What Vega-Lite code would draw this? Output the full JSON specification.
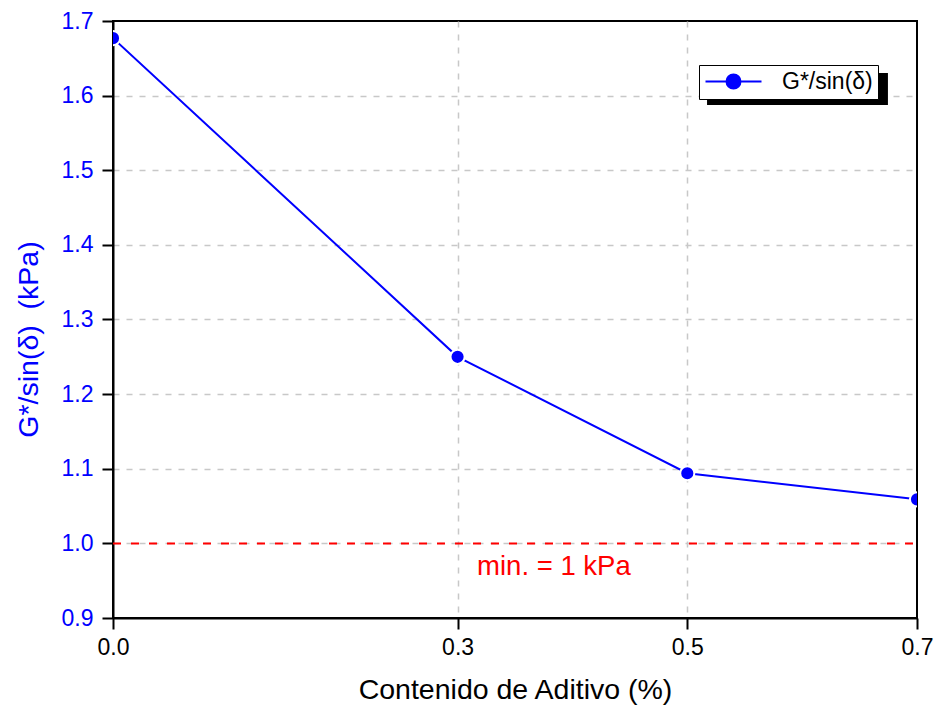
{
  "$schema": "https://vega.github.io/schema/vega-lite/v6.json",
  "width": 804,
  "height": 597,
  "autosize": {"type": "none"},
  "padding": {"left": 113, "top": 21, "right": 18, "bottom": 93},
  "background": "white",
  "config": {
    "font": "Liberation Sans",
    "view": {"stroke": "black", "strokeWidth": 2},
    "axis": {
      "domainColor": "black",
      "domainWidth": 2,
      "tickColor": "black",
      "tickWidth": 2,
      "gridColor": "#c8c8c8",
      "gridWidth": 1.5,
      "gridDash": [6, 7],
      "labelFont": "Liberation Sans",
      "labelFontSize": 23,
      "titleFont": "Liberation Sans",
      "titleFontSize": 28.5,
      "titleFontWeight": "normal",
      "labelFlush": false,
      "labelOverlap": false
    }
  },
  "datasets": {
    "ensayo": [
      {"aditivo": 0.0, "g": 1.677, "serie": "G*/sin(δ)"},
      {"aditivo": 0.3, "g": 1.25, "serie": "G*/sin(δ)"},
      {"aditivo": 0.5, "g": 1.094, "serie": "G*/sin(δ)"},
      {"aditivo": 0.7, "g": 1.059, "serie": "G*/sin(δ)"}
    ],
    "umbral": [
      {"desde": 0.0, "hasta": 0.7, "valor": 1.0, "nota": "min. = 1 kPa"}
    ]
  },
  "layer": [
    {
      "data": {"name": "umbral"},
      "mark": {"type": "rule", "color": "#ff0000", "strokeWidth": 2, "strokeDash": [8, 10]},
      "encoding": {
        "x": {"field": "desde", "type": "quantitative", "scale": {"domain": [0, 0.7], "nice": false, "zero": false}},
        "x2": {"field": "hasta"},
        "y": {"field": "valor", "type": "quantitative", "scale": {"domain": [0.9, 1.7], "nice": false, "zero": false}}
      }
    },
    {
      "data": {"name": "umbral"},
      "mark": {"type": "text", "color": "#ff0000", "fontSize": 27.5, "font": "Liberation Sans", "align": "left", "baseline": "alphabetic"},
      "encoding": {
        "x": {"datum": 0.317, "type": "quantitative"},
        "y": {"datum": 0.958, "type": "quantitative"},
        "text": {"field": "nota", "type": "nominal"}
      }
    },
    {
      "data": {"name": "ensayo"},
      "mark": {"type": "line", "strokeWidth": 2, "clip": true},
      "encoding": {
        "x": {
          "field": "aditivo",
          "type": "quantitative",
          "axis": {
            "title": "Contenido de Aditivo (%)",
            "titleColor": "black",
            "labelColor": "black",
            "values": [0, 0.3, 0.5, 0.7],
            "format": ".1f",
            "tickSize": 11,
            "labelPadding": 7,
            "titlePadding": 16,
            "grid": true,
            "gridOpacity": {"condition": {"test": "datum.value > 0.01 && datum.value < 0.69", "value": 1}, "value": 0}
          }
        },
        "y": {
          "field": "g",
          "type": "quantitative",
          "axis": {
            "title": "G*/sin(δ)\u00a0 (kPa)",
            "titleColor": "#0000ff",
            "labelColor": "#0000ff",
            "values": [0.9, 0.95, 1.0, 1.05, 1.1, 1.15, 1.2, 1.25, 1.3, 1.35, 1.4, 1.45, 1.5, 1.55, 1.6, 1.65, 1.7],
            "labelExpr": "round(datum.value * 100) % 10 == 0 ? format(datum.value, '.1f') : ''",
            "tickSize": {"condition": {"test": "round(datum.value * 100) % 10 == 0", "value": 11}, "value": 6},
            "labelPadding": 9,
            "titlePadding": 18,
            "titleY": 318,
            "grid": true,
            "gridOpacity": {"condition": {"test": "round(datum.value * 100) % 10 == 0 && datum.value > 0.91 && datum.value < 1.69", "value": 1}, "value": 0}
          }
        },
        "color": {
          "field": "serie",
          "type": "nominal",
          "scale": {"range": ["#0000ff"]},
          "legend": {
            "title": null,
            "orient": "none",
            "legendX": 586,
            "legendY": 44,
            "padding": 5,
            "strokeColor": "black",
            "fillColor": "white",
            "symbolType": "M-1,0H4.6M2.5,0A0.7,0.7,0,1,1,1.1,0A0.7,0.7,0,1,1,2.5,0Z",
            "symbolSize": 400,
            "symbolStrokeWidth": 2,
            "labelOffset": 55,
            "labelFontSize": 23,
            "labelFont": "Liberation Sans",
            "labelColor": "black",
            "encode": {"symbols": {"update": {"fill": {"value": "#0000ff"}, "stroke": {"value": "#0000ff"}, "opacity": {"value": 1}}}}
          }
        }
      }
    },
    {
      "data": {"name": "ensayo"},
      "mark": {"type": "point", "filled": true, "size": 200, "opacity": 1, "stroke": "white", "strokeWidth": 2, "clip": true},
      "encoding": {
        "x": {"field": "aditivo", "type": "quantitative"},
        "y": {"field": "g", "type": "quantitative"},
        "color": {"field": "serie", "type": "nominal"}
      }
    },
    {
      "data": {"values": [{}]},
      "mark": {"type": "rect", "color": "black"},
      "encoding": {
        "x": {"datum": 0.5172, "type": "quantitative"},
        "x2": {"datum": 0.6747},
        "y": {"datum": 1.6303, "type": "quantitative"},
        "y2": {"datum": 1.5874}
      }
    }
  ]
}
